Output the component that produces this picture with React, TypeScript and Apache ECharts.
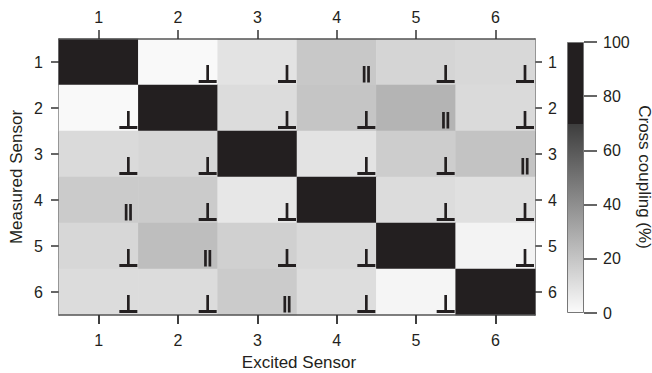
import React, { useEffect, useRef } from "react";
import * as echarts from "echarts";

// Sensor labels (excited = columns, measured = rows)
const sensors = ["1", "2", "3", "4", "5", "6"];

// Cross coupling (%) — rows: measured sensor 1..6, columns: excited sensor 1..6
const row1 = [100, 0.7, 8.8, 18.8, 14.0, 13.0];
const row2 = [0.7, 100, 11.4, 19.9, 26.2, 12.2];
const row3 = [12.2, 13.6, 100, 8.8, 16.9, 20.6];
const row4 = [17.7, 17.7, 7.4, 100, 11.4, 9.9];
const row5 = [13.3, 22.5, 15.8, 12.5, 100, 2.9];
const row6 = [11.4, 11.4, 17.7, 11.0, 2.2, 100];
const coupling = [row1, row2, row3, row4, row5, row6];

// Orientation markers: "perp" = ⊥, "par" = ∥, "" = none (diagonal)
const orient1 = ["", "perp", "perp", "par", "perp", "perp"];
const orient2 = ["perp", "", "perp", "perp", "par", "perp"];
const orient3 = ["perp", "perp", "", "perp", "perp", "par"];
const orient4 = ["par", "perp", "perp", "", "perp", "perp"];
const orient5 = ["perp", "par", "perp", "perp", "", "perp"];
const orient6 = ["perp", "perp", "par", "perp", "perp", ""];
const orientation = [orient1, orient2, orient3, orient4, orient5, orient6];

// Colour bar ticks
const colorbarTicks = [0, 20, 40, 60, 80, 100];

const FONT = "'Liberation Sans', Arial, Helvetica, sans-serif";
const INK = "#231f20";
const AXIS = "#555555";

// grey scale: white at 0, dark grey at 70, black above
const scaleColors = [
  "#fbfbfb", "#e0e0e0", "#c5c5c5", "#aaaaaa", "#8e8e8e", "#737373",
  "#585858", "#3d3d3d", INK, INK, INK,
];

export default function App() {
  const ref = useRef<HTMLDivElement>(null);

  useEffect(() => {
    if (!ref.current) return;
    const chart = echarts.init(ref.current, null, { renderer: "svg" });

    const heatData: number[][] = [];
    const markData: number[][] = [];
    coupling.forEach((row, r) => {
      row.forEach((v, c) => {
        heatData.push([c, r, v]);
        const o = orientation[r][c];
        if (o === "perp") markData.push([c, r, 0]);
        else if (o === "par") markData.push([c, r, 1]);
      });
    });

    const labelStyle = { fontSize: 16, color: INK, fontFamily: FONT };
    const axisLine = () => ({ show: true, onZero: false, lineStyle: { color: AXIS, width: 1.5 } });
    const tick = (len: number) => ({
      show: true, interval: 0, alignWithLabel: true, inside: false, length: len,
      lineStyle: { color: "#333", width: 1.5 },
    });
    const plotRect = { left: 59, top: 39, width: 476, height: 276 };

    const option: any = {
      animation: false,
      backgroundColor: "#ffffff",
      grid: [
        { ...plotRect },
        { left: 567, top: 42, width: 17, height: 271 },
        { ...plotRect },
      ],
      xAxis: [
        {
          type: "category", data: sensors, gridIndex: 0, position: "top", z: 10,
          axisLine: axisLine(), axisTick: tick(9),
          axisLabel: { ...labelStyle, margin: 14 },
        },
        {
          type: "category", data: sensors, gridIndex: 0, position: "bottom", z: 10,
          axisLine: axisLine(), axisTick: tick(9),
          axisLabel: { show: false },
        },
        { type: "category", data: [""], gridIndex: 1, show: false },
        {
          type: "category", data: sensors, gridIndex: 2, position: "bottom", z: 10,
          axisLine: { show: false }, axisTick: tick(9),
          axisLabel: { ...labelStyle, margin: 17 },
        },
      ],
      yAxis: [
        {
          type: "category", data: sensors, gridIndex: 0, position: "left", inverse: true,
          axisLine: axisLine(), axisTick: tick(8),
          axisLabel: { ...labelStyle, margin: 16 },
        },
        {
          type: "category", data: sensors, gridIndex: 0, position: "right", inverse: true,
          axisLine: axisLine(), axisTick: tick(7),
          axisLabel: { ...labelStyle, margin: 13 },
        },
        {
          type: "value", gridIndex: 1, position: "right", min: colorbarTicks[0],
          max: colorbarTicks[colorbarTicks.length - 1], interval: colorbarTicks[1] - colorbarTicks[0],
          axisLine: { show: false }, splitLine: { show: false },
          axisTick: { show: true, length: 13, lineStyle: { color: "#333", width: 1.5 } },
          axisLabel: { ...labelStyle, margin: 19 },
        },
        { type: "category", data: sensors, gridIndex: 2, inverse: true, show: false },
      ],
      visualMap: {
        type: "continuous", show: false, seriesIndex: 0, min: 0, max: 100,
        inRange: { color: scaleColors },
      },
      series: [
        { type: "heatmap", xAxisIndex: 0, yAxisIndex: 0, data: heatData },
        {
          type: "custom", xAxisIndex: 0, yAxisIndex: 0, data: markData,
          encode: { x: 0, y: 1 }, z: 5,
          renderItem: (params: any, api: any) => {
            const c = api.coord([api.value(0), api.value(1)]);
            const s = api.size([1, 1]);
            const right = c[0] + s[0] / 2;
            const bottom = c[1] + s[1] / 2;
            const cx = right - 10;
            const st = { stroke: INK, lineWidth: 2.7 };
            if (api.value(2) === 0) {
              return {
                type: "group",
                children: [
                  { type: "line", shape: { x1: cx, y1: bottom - 20, x2: cx, y2: bottom - 3 }, style: st },
                  { type: "line", shape: { x1: cx - 9, y1: bottom - 3.5, x2: cx + 9, y2: bottom - 3.5 }, style: { ...st, lineWidth: 3 } },
                ],
              };
            }
            return {
              type: "group",
              children: [
                { type: "line", shape: { x1: cx - 2.2, y1: bottom - 19, x2: cx - 2.2, y2: bottom - 2.5 }, style: st },
                { type: "line", shape: { x1: cx + 2.2, y1: bottom - 19, x2: cx + 2.2, y2: bottom - 2.5 }, style: st },
              ],
            };
          },
        },
        {
          type: "bar", xAxisIndex: 2, yAxisIndex: 2, barWidth: "100%",
          data: [colorbarTicks[colorbarTicks.length - 1]],
          itemStyle: {
            borderColor: "#777", borderWidth: 1,
            color: {
              type: "linear", x: 0, y: 1, x2: 0, y2: 0,
              colorStops: [
                { offset: 0, color: scaleColors[0] },
                { offset: 0.7, color: scaleColors[7] },
                { offset: 0.7, color: INK },
                { offset: 1, color: INK },
              ],
            },
          },
        },
      ],
      graphic: [
        {
          type: "text", x: 299, y: 362,
          style: { text: "Excited Sensor", fill: INK, font: `17px ${FONT}`, textAlign: "center", textVerticalAlign: "middle" },
        },
        {
          type: "text", x: 16, y: 177, rotation: Math.PI / 2,
          style: { text: "Measured Sensor", fill: INK, font: `17px ${FONT}`, textAlign: "center", textVerticalAlign: "middle" },
        },
        {
          type: "text", x: 644, y: 177, rotation: -Math.PI / 2,
          style: { text: "Cross coupling (%)", fill: INK, font: `17px ${FONT}`, textAlign: "center", textVerticalAlign: "middle" },
        },
      ],
    };

    chart.setOption(option);
    return () => chart.dispose();
  }, []);

  return (
    <div
      ref={ref}
      style={{ position: "fixed", left: 0, top: 0, width: 652, height: 373, background: "#fff" }}
    />
  );
}
